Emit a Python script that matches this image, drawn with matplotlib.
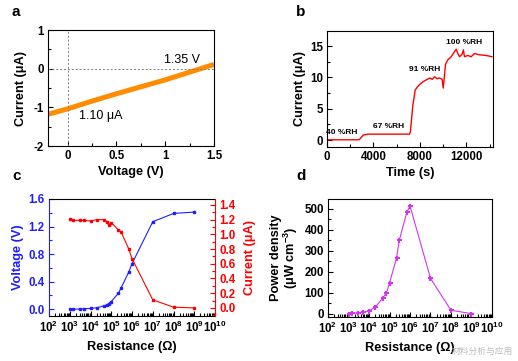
import matplotlib
matplotlib.use("Agg")
import matplotlib.pyplot as plt
from matplotlib.ticker import MultipleLocator, LogLocator, FuncFormatter, NullFormatter
import math

plt.rcParams['font.family'] = ['Liberation Sans', 'DejaVu Sans']
plt.rcParams['mathtext.fontset'] = 'custom'
plt.rcParams['mathtext.rm'] = 'Liberation Sans'
plt.rcParams['mathtext.bf'] = 'Liberation Sans:bold'
plt.rcParams['mathtext.default'] = 'bf'

# ---------------- data ----------------
# panel a: I-V curve
a_voltage = [-0.2, 0.0, 0.25, 0.5, 0.75, 1.0, 1.25, 1.35, 1.5]
a_current = [-1.18, -1.04, -0.84, -0.65, -0.47, -0.29, -0.09, -0.01, 0.11]

# panel b: current vs time under humidity steps
b_time = [0, 2775, 3120, 3550, 7120, 7180, 7400, 7600, 7800, 8000, 8270, 8550, 8840,
          9070, 9270, 9470, 9700, 9920, 10010, 10100, 10210, 10410, 10700, 10980,
          11130, 11270, 11420, 11640, 11750, 11840, 12130, 12420, 12700, 13130,
          13700, 14210]
b_current = [0.05, 0.05, 0.8, 0.95, 0.95, 1.3, 5.6, 8.0, 8.5, 8.9, 9.3, 9.6, 9.9,
             9.7, 10.1, 9.8, 9.9, 9.7, 8.3, 9.9, 12.1, 12.8, 13.3, 14.1,
             14.5, 13.8, 13.3, 13.7, 14.4, 13.3, 13.5, 13.3, 13.8, 13.6,
             13.5, 13.3]
b_labels = ['40 %RH', '67 %RH', '91 %RH', '100 %RH']
b_label_t = [1290, 5330, 8420, 11810]
b_label_y = [1.2, 2.1, 11.3, 15.6]

# panel c: voltage and current vs load resistance
c_resistance = [1e3, 1.5e3, 3e3, 5e3, 1e4, 2e4, 4.7e4, 6e4, 7.5e4, 1e5, 2.2e5, 3e5,
                7e5, 1e6, 1e7, 1e8, 1e9]
c_voltage = [0.0, 0.0, 0.0, 0.005, 0.01, 0.02, 0.05, 0.06, 0.08, 0.11, 0.23, 0.31,
             0.54, 0.66, 1.27, 1.39, 1.41]
c_current = [1.21, 1.19, 1.19, 1.19, 1.18, 1.20, 1.20, 1.17, 1.13, 1.16, 1.06, 1.03,
             0.80, 0.67, 0.11, 0.01, 0.0]

# panel d: power density vs load resistance
d_resistance = [1e3, 1.5e3, 3e3, 5e3, 1e4, 2e4, 4.7e4, 7e4, 1e5, 2.2e5, 3e5, 7e5,
                1e6, 1e7, 1e8, 1e9]
d_power = [0, 1, 4, 7, 14, 30, 75, 97, 146, 265, 350, 483, 513, 168, 16, 0]

# ---------------- figure ----------------
W, H = 518, 361
fig = plt.figure(figsize=(W / 100, H / 100), dpi=100)

def box(l, r, t, b):
    return [l / W, 1 - b / H, (r - l) / W, (b - t) / H]

TICK_FS = 8.3
LAB_FS = 9.2

def style(ax):
    ax.tick_params(which='both', direction='in', top=False, right=False,
                   labelsize=TICK_FS, width=0.8, pad=3)
    ax.tick_params(which='major', length=3.5)
    ax.tick_params(which='minor', length=2)
    for lab in ax.get_xticklabels() + ax.get_yticklabels():
        lab.set_fontweight('bold')
    for s in ax.spines.values():
        s.set_linewidth(0.8)

def logfmt(x, pos):
    e = int(round(math.log10(x)))
    return r'$\mathbf{10^{%d}}$' % e

# panel a
axa = fig.add_axes(box(48, 214, 30, 146))
axa.plot(a_voltage, a_current, color='#FF8C00', lw=3.6, solid_capstyle='butt')
axa.axhline(0, color='gray', ls=(0, (2, 2)), lw=0.7)
axa.axvline(0, color='gray', ls=(0, (2, 2)), lw=0.7)
axa.set_xlim(-0.2, 1.5)
axa.set_ylim(-2, 1)
axa.xaxis.set_major_locator(MultipleLocator(0.5))
axa.xaxis.set_minor_locator(MultipleLocator(0.25))
axa.yaxis.set_major_locator(MultipleLocator(1))
axa.yaxis.set_minor_locator(MultipleLocator(0.5))
axa.xaxis.set_major_formatter(FuncFormatter(lambda x, p: ('%g' % x)))
axa.yaxis.set_major_formatter(FuncFormatter(lambda x, p: ('%g' % x)))
style(axa)
axa.set_xlabel('Voltage (V)', fontsize=LAB_FS, fontweight='bold', labelpad=3)
axa.set_ylabel('Current (μA)', fontsize=LAB_FS, fontweight='bold', labelpad=5)
axa.text(1.36, 0.07, '1.35 V', fontsize=9, ha='right', va='bottom')
axa.text(0.12, -1.06, '1.10 μA', fontsize=9, ha='left', va='top')

# panel b
axb = fig.add_axes(box(327, 493, 31, 147))
axb.plot(b_time, b_current, color='#FF0000', lw=1.0)
axb.set_xlim(0, 14300)
axb.set_ylim(-1.1, 17.4)
axb.xaxis.set_major_locator(MultipleLocator(4000))
axb.xaxis.set_minor_locator(MultipleLocator(2000))
axb.yaxis.set_major_locator(MultipleLocator(5))
axb.yaxis.set_minor_locator(MultipleLocator(2.5))
style(axb)
axb.set_xlabel('Time (s)', fontsize=LAB_FS, fontweight='bold', labelpad=3)
axb.set_ylabel('Current (μA)', fontsize=LAB_FS, fontweight='bold', labelpad=3)
for s, t, y in zip(b_labels, b_label_t, b_label_y):
    axb.text(t, y, s, fontsize=6, fontweight='bold', ha='center', va='center')

# panel c
blue = '#1E1EFF'
red = '#FF0000'
axc = fig.add_axes(box(49, 215, 199, 316))
axc.plot(c_resistance, c_voltage, color=blue, lw=0.8, marker='s', ms=1.8)
axc.set_xscale('log')
axc.set_xlim(1e2, 1e10)
axc.set_ylim(-0.1, 1.6)
axc.yaxis.set_major_locator(MultipleLocator(0.4))
axc.yaxis.set_minor_locator(MultipleLocator(0.2))
axc.yaxis.set_major_formatter(FuncFormatter(lambda x, p: '%.1f' % x))
axc.xaxis.set_major_locator(LogLocator(base=10, numticks=20))
axc.xaxis.set_minor_locator(LogLocator(base=10, subs=range(2, 10), numticks=20))
axc.xaxis.set_major_formatter(FuncFormatter(logfmt))
axc.xaxis.set_minor_formatter(NullFormatter())
style(axc)
axc.tick_params(axis='y', colors=blue, which='both')
axc.spines['left'].set_color(blue)
axc.spines['right'].set_visible(False)
axc.set_ylabel('Voltage (V)', fontsize=LAB_FS, fontweight='bold', color=blue, labelpad=3)
axc.set_xlabel('Resistance (Ω)', fontsize=LAB_FS, fontweight='bold', labelpad=4)

axc2 = axc.twinx()
axc2.plot(c_resistance, c_current, color=red, lw=0.8, marker='s', ms=1.8)
axc2.set_ylim(-0.11, 1.48)
axc2.yaxis.set_major_locator(MultipleLocator(0.2))
axc2.yaxis.set_minor_locator(MultipleLocator(0.1))
axc2.yaxis.set_major_formatter(FuncFormatter(lambda x, p: '%.1f' % x))
axc2.tick_params(which='both', direction='in', labelsize=TICK_FS, width=0.8, pad=3,
                 colors=red, left=False, right=True, labelright=True)
axc2.tick_params(which='major', length=3.5)
axc2.tick_params(which='minor', length=2)
for lab in axc2.get_yticklabels():
    lab.set_fontweight('bold')
axc2.spines['right'].set_color(red)
axc2.spines['right'].set_linewidth(0.8)
axc2.spines['left'].set_visible(False)
axc2.spines['top'].set_visible(False)
axc2.spines['bottom'].set_visible(False)
axc2.set_ylabel('Current (μA)', fontsize=LAB_FS, fontweight='bold', color=red, labelpad=6)

# panel d
mag = '#D633F0'
axd = fig.add_axes(box(328, 492, 199, 317))
axd.plot(d_resistance, d_power, color=mag, lw=0.8, marker='P', ms=3.6, mew=0)
axd.set_xscale('log')
axd.set_xlim(1e2, 1e10)
axd.set_ylim(-16, 546)
axd.yaxis.set_major_locator(MultipleLocator(100))
axd.yaxis.set_minor_locator(MultipleLocator(50))
axd.xaxis.set_major_locator(LogLocator(base=10, numticks=20))
axd.xaxis.set_minor_locator(LogLocator(base=10, subs=range(2, 10), numticks=20))
axd.xaxis.set_major_formatter(FuncFormatter(logfmt))
axd.xaxis.set_minor_formatter(NullFormatter())
style(axd)
axd.set_xlabel('Resistance (Ω)', fontsize=LAB_FS, fontweight='bold', labelpad=4)
axd.set_ylabel('Power density\n(μW cm$^{-3}$)', fontsize=LAB_FS, fontweight='bold',
               labelpad=3, linespacing=1.0)

# panel letters
for s, x, y in [('a', 12, 16), ('b', 296, 16), ('c', 12, 180), ('d', 296, 180)]:
    fig.text(x / W, 1 - y / H, s, fontsize=11, fontweight='bold', ha='left', va='baseline')

# watermark
fig.text(452 / W, 1 - 354 / H, '材料分析与应用', fontsize=6.3, color='#BBBBBB',
         family=['Noto Sans CJK SC', 'DejaVu Sans'], ha='left', va='baseline')

fig.savefig('out.png', dpi=100)
